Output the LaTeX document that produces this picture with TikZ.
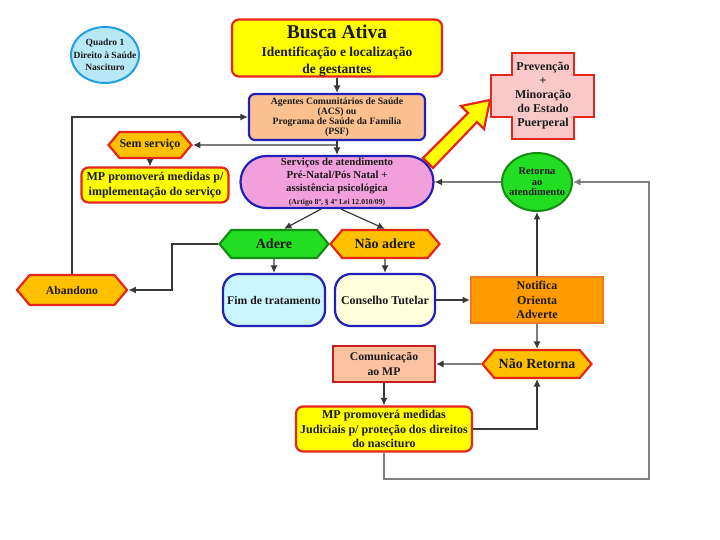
\documentclass[tikz,border=0pt]{standalone}
\usepackage{fontspec}
\setmainfont{Liberation Serif}
\usepackage{xcolor}
\usepackage{tikz}
\usetikzlibrary{shapes.geometric, shapes.misc, shapes.symbols, arrows.meta}

\definecolor{texto}{HTML}{1A1A1A}
\definecolor{linha}{HTML}{383838}
\definecolor{vermelho}{HTML}{E5261E}
\definecolor{amarelo}{HTML}{FFFF00}
\definecolor{laranja}{HTML}{FFC000}
\definecolor{laranjaforte}{HTML}{FF9A00}
\definecolor{laranjaborda}{HTML}{F07A20}
\definecolor{pessego}{HTML}{FAC090}
\definecolor{salmao}{HTML}{FBC2A2}
\definecolor{rosa}{HTML}{F2A0DC}
\definecolor{rosaclaro}{HTML}{F9C9C9}
\definecolor{azul}{HTML}{2020B8}
\definecolor{azulclaro}{HTML}{1E9FE0}
\definecolor{ciano}{HTML}{B8E8F6}
\definecolor{cianoclaro}{HTML}{CCF6FF}
\definecolor{creme}{HTML}{FFFFDC}
\definecolor{verde}{HTML}{22DD22}
\definecolor{verdeescuro}{HTML}{148C14}

\begin{document}
\begin{tikzpicture}[x=1pt, y=-1pt,
    every node/.style={align=center, text=texto, inner sep=0pt},
    conn/.style={draw=linha, line width=1.2pt, -{Latex[length=7.5pt,width=7pt]}},
    amarela/.style={rectangle, rounded corners=7pt, draw=vermelho, fill=amarelo, line width=2.2pt},
    hexa/.style={signal, signal to=west and east, signal pointer angle=100, line width=2.2pt, draw=vermelho, fill=laranja},
    azulbox/.style={draw=azul, line width=2.2pt}]
    \useasboundingbox (0,0) rectangle (720,540);

    \node[ellipse, draw=azulclaro, fill=ciano, line width=2pt, minimum width=68pt, minimum height=56pt] (quadro) at (105,55) {};
    \node[font=\bfseries\fontsize{9.5}{12.5}\selectfont] (quadrotxt) at (quadro) {Quadro 1\\Direito à Saúde\\Nascituro};

    \node[amarela, minimum width=210pt, minimum height=57pt] (busca) at (337,48) {};
    \node[font=\bfseries\fontsize{13.5}{17.5}\selectfont] (buscatxt) at (337,51)
        {{\fontsize{19.5}{19.5}\selectfont Busca Ativa}\\Identificação e localização\\de gestantes};
    \node[azulbox, rectangle, rounded corners=6pt, fill=pessego, minimum width=176pt, minimum height=46pt, font=\bfseries\fontsize{9.7}{10}\selectfont] (acs) at (337,117)
        {Agentes Comunitários de Saúde\\(ACS) ou\\Programa de Saúde da Família\\(PSF)};
    \node[azulbox, rounded rectangle, fill=rosa, minimum width=193pt, minimum height=52pt, font=\bfseries\fontsize{10.8}{12.8}\selectfont] (serv) at (337,182)
        {Serviços de atendimento\\Pré-Natal/Pós Natal +\\assistência psicológica\\{\fontsize{7.7}{9}\selectfont (Artigo 8º, § 4º Lei 12.010/09)}};

    \draw[draw=vermelho, fill=rosaclaro, line width=2.2pt] (512,53) -- (574,53) -- (574,75) -- (594,75) -- (594,117) -- (574,117)
        -- (574,139) -- (512,139) -- (512,117) -- (491,117) -- (491,75) -- (512,75) -- cycle;
    \node[font=\bfseries\fontsize{12}{14}\selectfont] (prev) at (543,96) {Prevenção\\+\\Minoração\\do Estado\\Puerperal};
    \draw[draw=vermelho, fill=amarelo, line width=2.2pt] (433,168) -- (423,158) -- (468,113) -- (461,106) -- (490,100)
        -- (484,129) -- (477,122) -- cycle;

    \node[ellipse, draw=verdeescuro, fill=verde, line width=2pt, minimum width=70pt, minimum height=58pt] (ret) at (537,182) {};
    \node[font=\bfseries\fontsize{10.5}{10.5}\selectfont] (rettxt) at (ret) {Retorna\\ao\\atendimento};

    \node[hexa, minimum width=83pt, minimum height=26pt, font=\bfseries\fontsize{12}{13}\selectfont] (semserv) at (150,145) {Sem serviço};
    \node[amarela, minimum width=147pt, minimum height=35pt, font=\bfseries\fontsize{12}{15}\selectfont] (mpp) at (155,185)
        {MP promoverá medidas p/\\implementação do serviço};

    \node[hexa, draw=verdeescuro, fill=verde, minimum width=109pt, minimum height=28pt, font=\bfseries\fontsize{14}{14}\selectfont] (adere) at (274,244) {Adere};
    \node[hexa, minimum width=109pt, minimum height=28pt, font=\bfseries\fontsize{14}{14}\selectfont] (naoadere) at (385,244) {Não adere};
    \node[hexa, minimum width=110pt, minimum height=30pt, font=\bfseries\fontsize{11.7}{13}\selectfont] (aband) at (72,290) {Abandono};

    \node[azulbox, rectangle, rounded corners=16pt, fill=cianoclaro, minimum width=102pt, minimum height=52pt, font=\bfseries\fontsize{11.7}{13}\selectfont] (fim) at (274,300) {Fim de tratamento};
    \node[azulbox, rectangle, rounded corners=16pt, fill=creme, minimum width=100pt, minimum height=52pt, font=\bfseries\fontsize{12}{13}\selectfont] (cons) at (385,300) {Conselho Tutelar};
    \node[rectangle, draw=laranjaborda, fill=laranjaforte, line width=2pt, minimum width=132pt, minimum height=46pt, font=\bfseries\fontsize{12}{14.5}\selectfont] (notif) at (537,300)
        {Notifica\\Orienta\\Adverte};
    \node[hexa, minimum width=109pt, minimum height=28pt, font=\bfseries\fontsize{14}{14}\selectfont] (naoret) at (537,364) {Não Retorna};
    \node[rectangle, draw=vermelho!85!black, fill=salmao, line width=2pt, minimum width=102pt, minimum height=36pt, font=\bfseries\fontsize{11.7}{15}\selectfont] (comun) at (384,364)
        {Comunicação\\ao MP};
    \node[amarela, minimum width=176pt, minimum height=45pt, font=\bfseries\fontsize{12}{14.5}\selectfont] (mpjud) at (384,429)
        {MP promoverá medidas\\Judiciais p/ proteção dos direitos\\do nascituro};

    \coordinate (ramo) at (337,145);
    \coordinate (volta) at (649,479);

    \draw[conn] (busca) -- (acs);
    \draw[conn] (acs) -- (serv);
    \draw[conn] (ramo) -- (semserv);
    \draw[conn] (semserv.south) -- (semserv.south |- mpp.north);
    \draw[conn] (aband.north) |- (acs.west);
    \draw[conn] ([xshift=-16pt]serv.south) -- ([xshift=10pt]adere.north);
    \draw[conn] ([xshift=4pt]serv.south) -- (naoadere.north);
    \draw[conn] (adere.west) -- ++(-46,0) |- (aband.east);
    \draw[conn] (adere) -- (fim);
    \draw[conn] (naoadere) -- (cons);
    \draw[conn] (cons) -- (notif);
    \draw[conn] (notif) -- (ret);
    \draw[conn] (ret) -- (serv);
    \draw[conn] (notif) -- (naoret);
    \draw[conn] (naoret) -- (comun);
    \draw[conn] (comun) -- (mpjud);
    \draw[conn] (mpjud.east) -| (naoret.south);
    \draw[conn, draw=gray] (mpjud.south) |- (volta) |- (ret.east);
\end{tikzpicture}
\end{document}
